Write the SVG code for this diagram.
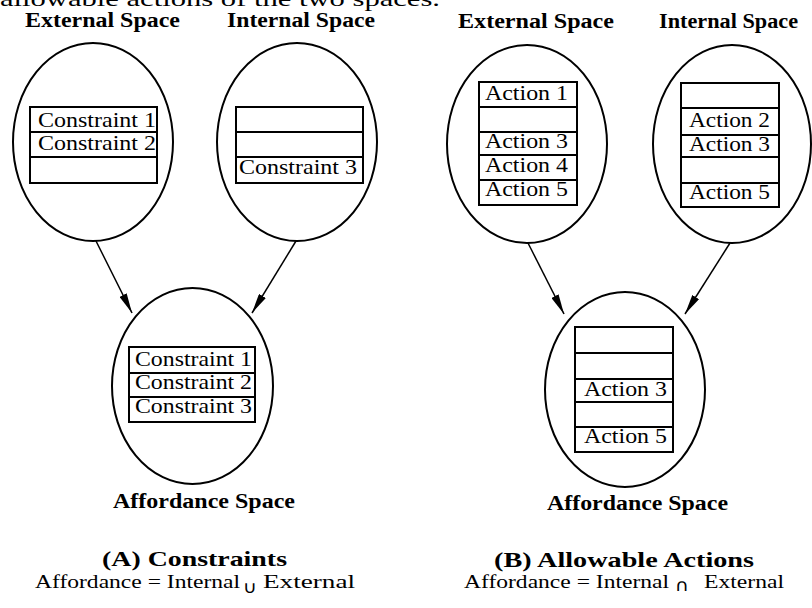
<svg xmlns="http://www.w3.org/2000/svg" width="812" height="608" viewBox="0 0 812 608">
<style>
.bg{fill:#fff}
.ell{fill:none;stroke:#000;stroke-width:2}
.box{fill:#fff;stroke:#000;stroke-width:2}
.row{stroke:#000;stroke-width:2}
.t{font-family:"Liberation Serif","Times New Roman",serif;font-size:22px;fill:#000}
.h{font-family:"Liberation Serif","Times New Roman",serif;font-size:20px;font-weight:bold;fill:#000}
.c{font-family:"Liberation Serif","Times New Roman",serif;font-size:22px;font-weight:bold;fill:#000}
.f{font-family:"Liberation Serif","Times New Roman",serif;font-size:19px;fill:#000}
.s{font-family:"DejaVu Sans","Liberation Serif",serif;font-size:17px;fill:#000}
.arr{stroke:#000;stroke-width:1.5;fill:none}
</style>
<defs>
<marker id="ah" viewBox="0 0 20 8" refX="20" refY="4" markerWidth="20" markerHeight="8" markerUnits="userSpaceOnUse" orient="auto">
<path d="M0,0 L20,4 L0,8 Z" fill="#000"/>
</marker>
</defs>
<rect class="bg" x="0" y="0" width="812" height="608"/>
<text class="t" x="0" y="6" font-size="24" textLength="440" lengthAdjust="spacingAndGlyphs">allowable actions of the two spaces.</text>

<g id="A-external">
<text class="h" x="25" y="27" textLength="155" lengthAdjust="spacingAndGlyphs">External Space</text>
<ellipse class="ell" cx="93" cy="142" rx="80" ry="99"/>
<rect class="box" x="30" y="107" width="127" height="76"/>
<line class="row" x1="30" y1="132" x2="157" y2="132"/>
<line class="row" x1="30" y1="157" x2="157" y2="157"/>
<text class="t" x="38" y="127" textLength="118" lengthAdjust="spacingAndGlyphs">Constraint 1</text>
<text class="t" x="38" y="150" textLength="118" lengthAdjust="spacingAndGlyphs">Constraint 2</text>
</g>

<g id="A-internal">
<text class="h" x="227" y="27" textLength="148" lengthAdjust="spacingAndGlyphs">Internal Space</text>
<ellipse class="ell" cx="297" cy="142" rx="80" ry="99"/>
<rect class="box" x="236" y="107" width="127" height="76"/>
<line class="row" x1="236" y1="132" x2="363" y2="132"/>
<line class="row" x1="236" y1="157" x2="363" y2="157"/>
<text class="t" x="239" y="174" textLength="118" lengthAdjust="spacingAndGlyphs">Constraint 3</text>
</g>

<g id="A-affordance">
<ellipse class="ell" cx="192.5" cy="386" rx="80.5" ry="98"/>
<rect class="box" x="129" y="347" width="126" height="75"/>
<line class="row" x1="129" y1="373" x2="255" y2="373"/>
<line class="row" x1="129" y1="397" x2="255" y2="397"/>
<text class="t" x="135" y="366" textLength="117" lengthAdjust="spacingAndGlyphs">Constraint 1</text>
<text class="t" x="135" y="389" textLength="117" lengthAdjust="spacingAndGlyphs">Constraint 2</text>
<text class="t" x="135" y="413" textLength="117" lengthAdjust="spacingAndGlyphs">Constraint 3</text>
<text class="h" x="113" y="508" textLength="182" lengthAdjust="spacingAndGlyphs">Affordance Space</text>
</g>

<g id="B-external">
<text class="h" x="458" y="28" textLength="156" lengthAdjust="spacingAndGlyphs">External Space</text>
<ellipse class="ell" cx="527" cy="144" rx="80" ry="99"/>
<rect class="box" x="479" y="82" width="98" height="123"/>
<line class="row" x1="479" y1="107" x2="577" y2="107"/>
<line class="row" x1="479" y1="132" x2="577" y2="132"/>
<line class="row" x1="479" y1="155" x2="577" y2="155"/>
<line class="row" x1="479" y1="180" x2="577" y2="180"/>
<text class="t" x="485" y="100" textLength="83" lengthAdjust="spacingAndGlyphs">Action 1</text>
<text class="t" x="485" y="148" textLength="83" lengthAdjust="spacingAndGlyphs">Action 3</text>
<text class="t" x="485" y="172" textLength="83" lengthAdjust="spacingAndGlyphs">Action 4</text>
<text class="t" x="485" y="196" textLength="83" lengthAdjust="spacingAndGlyphs">Action 5</text>
</g>

<g id="B-internal">
<text class="h" x="659" y="28" textLength="139" lengthAdjust="spacingAndGlyphs">Internal Space</text>
<ellipse class="ell" cx="732" cy="144" rx="79" ry="99"/>
<rect class="box" x="681" y="83" width="98" height="124"/>
<line class="row" x1="681" y1="108" x2="779" y2="108"/>
<line class="row" x1="681" y1="135" x2="779" y2="135"/>
<line class="row" x1="681" y1="157" x2="779" y2="157"/>
<line class="row" x1="681" y1="183" x2="779" y2="183"/>
<text class="t" x="689" y="127" textLength="81" lengthAdjust="spacingAndGlyphs">Action 2</text>
<text class="t" x="689" y="151" textLength="81" lengthAdjust="spacingAndGlyphs">Action 3</text>
<text class="t" x="689" y="199" textLength="81" lengthAdjust="spacingAndGlyphs">Action 5</text>
</g>

<g id="B-affordance">
<ellipse class="ell" cx="625" cy="389.5" rx="80" ry="97.5"/>
<rect class="box" x="575" y="327" width="98" height="125"/>
<line class="row" x1="575" y1="353" x2="673" y2="353"/>
<line class="row" x1="575" y1="379" x2="673" y2="379"/>
<line class="row" x1="575" y1="402" x2="673" y2="402"/>
<line class="row" x1="575" y1="427" x2="673" y2="427"/>
<text class="t" x="584" y="396" textLength="83" lengthAdjust="spacingAndGlyphs">Action 3</text>
<text class="t" x="584" y="443" textLength="83" lengthAdjust="spacingAndGlyphs">Action 5</text>
<text class="h" x="547" y="510" textLength="181" lengthAdjust="spacingAndGlyphs">Affordance Space</text>
</g>

<g id="connectors">
<line class="arr" x1="96" y1="241" x2="132" y2="313" marker-end="url(#ah)"/>
<line class="arr" x1="296" y1="241" x2="252" y2="313" marker-end="url(#ah)"/>
<line class="arr" x1="528" y1="243" x2="564" y2="314" marker-end="url(#ah)"/>
<line class="arr" x1="730" y1="243" x2="685" y2="314" marker-end="url(#ah)"/>
</g>

<g id="captions">
<text class="c" x="102" y="566" textLength="185" lengthAdjust="spacingAndGlyphs">(A) Constraints</text>
<text class="f" x="35" y="588" textLength="205" lengthAdjust="spacingAndGlyphs">Affordance = Internal</text>
<text class="s" x="243" y="593" textLength="14" lengthAdjust="spacingAndGlyphs">∪</text>
<text class="f" x="263" y="588" textLength="92" lengthAdjust="spacingAndGlyphs">External</text>
<text class="c" x="494" y="567" textLength="260" lengthAdjust="spacingAndGlyphs">(B) Allowable Actions</text>
<text class="f" x="464" y="588" textLength="205" lengthAdjust="spacingAndGlyphs">Affordance = Internal</text>
<text class="s" x="675" y="591" textLength="14" lengthAdjust="spacingAndGlyphs">∩</text>
<text class="f" x="704" y="588" textLength="80" lengthAdjust="spacingAndGlyphs">External</text>
</g>
</svg>
